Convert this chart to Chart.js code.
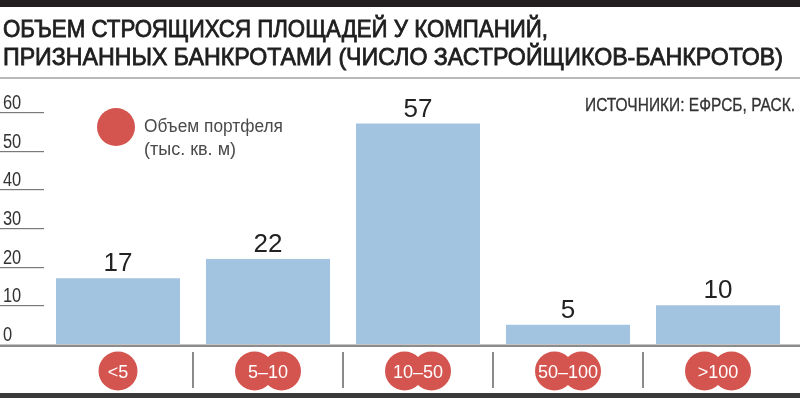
<!DOCTYPE html>
<html>
<head>
<meta charset="utf-8">
<script src="https://cdn.jsdelivr.net/npm/chart.js@4.4.0/dist/chart.umd.min.js"></script>
<style>
  body { margin: 0; background: #fff; }
  #wrap { width: 800px; height: 398px; }
</style>
</head>
<body>
<div id="wrap"><canvas id="myChart" width="800" height="398"></canvas></div>
<script>
// ------------------------------data------------------------------------------------
const titleLines = ['ОБЪЕМ СТРОЯЩИХСЯ ПЛОЩАДЕЙ У КОМПАНИЙ,', 'ПРИЗНАННЫХ БАНКРОТАМИ (ЧИСЛО ЗАСТРОЙЩИКОВ-БАНКРОТОВ)'];
const sourceText = 'ИСТОЧНИКИ: ЕФРСБ, РАСК.';
const legendLines = ['Объем портфеля', '(тыс. кв. м)'];
const categories = ['<5', '5–10', '10–50', '50–100', '>100'];
const bankrupts = [17, 22, 57, 5, 10];
const yTicks = [0, 10, 20, 30, 40, 50, 60];

const RED = '#d4544f';
const FONT = '"Liberation Sans", Arial, sans-serif';

// draw text squeezed to a given width (optional stroke for weight)
function fitText(ctx, text, x, y, w, bold) {
  const m = ctx.measureText(text).width;
  ctx.save();
  ctx.translate(x, y);
  ctx.scale(w / m, 1);
  ctx.textAlign = 'left';
  ctx.fillText(text, 0, 0);
  if (bold) {
    ctx.strokeStyle = ctx.fillStyle;
    ctx.lineWidth = bold;
    ctx.strokeText(text, 0, 0);
  }
  ctx.restore();
}
// draw text with horizontal scale, centered or left
function squeezeText(ctx, text, x, y, s, center) {
  const m = ctx.measureText(text).width;
  ctx.save();
  ctx.translate(x, y);
  ctx.scale(s, 1);
  ctx.textAlign = 'left';
  ctx.fillText(text, center ? -m / 2 : 0, 0);
  ctx.restore();
}

const decor = {
  id: 'decor',
  beforeDraw(chart) {
    const ctx = chart.ctx;
    ctx.save();
    // top black band
    ctx.fillStyle = '#231f20';
    ctx.fillRect(0, 0, 800, 7);
    // title
    ctx.fillStyle = '#1e1e1e';
    ctx.font = '24px ' + FONT;
    fitText(ctx, titleLines[0], 3, 37, 545, 0.8);
    fitText(ctx, titleLines[1], 3, 65, 780, 0.8);
    // grey rule below title
    ctx.fillStyle = '#b9b9b9';
    ctx.fillRect(0, 77, 800, 2);
    // source
    ctx.fillStyle = '#333';
    ctx.font = '18px ' + FONT;
    fitText(ctx, sourceText, 585, 111, 210, 0.3);
    // y ticks with underlines
    const y = chart.scales.y;
    ctx.font = '20px ' + FONT;
    yTicks.forEach(v => {
      const py = Math.round(y.getPixelForValue(v));
      ctx.fillStyle = '#333';
      squeezeText(ctx, String(v), 3, py - 3, 0.82, false);
      if (v > 0) {
        ctx.fillStyle = '#7a7a7a';
        ctx.fillRect(0, py, 44, 1.2);
      }
    });
    // legend
    ctx.fillStyle = RED;
    ctx.beginPath();
    ctx.arc(116, 127, 19, 0, Math.PI * 2);
    ctx.fill();
    ctx.fillStyle = '#4a4a4a';
    ctx.font = '18px ' + FONT;
    fitText(ctx, legendLines[0], 144, 132, 139);
    fitText(ctx, legendLines[1], 144, 155, 92);
    ctx.restore();
  },
  afterDatasetsDraw(chart) {
    const ctx = chart.ctx;
    const x = chart.scales.x;
    const y = chart.scales.y;
    const meta = chart.getDatasetMeta(0);
    const zero = y.getPixelForValue(0);
    ctx.save();
    // value labels
    ctx.fillStyle = '#222';
    ctx.font = '26px ' + FONT;
    ctx.textAlign = 'center';
    meta.data.forEach((bar, i) => {
      ctx.fillText(String(bankrupts[i]), bar.x, bar.y - 7);
    });
    // baseline
    ctx.fillStyle = '#8c8c8c';
    ctx.fillRect(0, zero + 0.5, 800, 2.5);
    // separators between categories
    ctx.fillStyle = '#8a8a8a';
    for (let i = 1; i < categories.length; i++) {
      const sx = (x.getPixelForValue(i - 1) + x.getPixelForValue(i)) / 2;
      ctx.fillRect(Math.round(sx) - 1, 352, 2, 36);
    }
    // red circle labels
    ctx.font = '19px ' + FONT;
    categories.forEach((c, i) => {
      const cx = x.getPixelForValue(i);
      const cy = 371;
      ctx.fillStyle = RED;
      const offs = c.length > 2 ? [-13.5, 13.5] : [0];
      offs.forEach(o => {
        ctx.beginPath();
        ctx.arc(cx + o, cy, 19.5, 0, Math.PI * 2);
        ctx.fill();
      });
      ctx.fillStyle = '#fff';
      squeezeText(ctx, c, cx, cy + 7, 0.95, true);
    });
    // bottom band
    ctx.fillStyle = '#3a3a3a';
    ctx.fillRect(0, 393, 800, 5);
    ctx.restore();
  }
};

// ------------------------------chartJS------------------------------------------------
const pickChart = document.getElementById('myChart');
const drawChart = new Chart(pickChart, {
  type: 'bar',
  data: {
    labels: categories,
    datasets: [{
      label: 'Число застройщиков-банкротов',
      data: bankrupts,
      backgroundColor: '#a3c4e1',
      borderWidth: 0,
      barPercentage: 0.827,
      categoryPercentage: 1
    }]
  },
  options: {
    responsive: false,
    animation: false,
    devicePixelRatio: 1,
    layout: { padding: { left: 43, right: 7, top: 112, bottom: 54 } },
    plugins: { legend: { display: false }, tooltip: { enabled: false }, title: { display: false } },
    scales: {
      x: { display: false },
      y: { display: false, min: 0, max: 60 }
    }
  },
  plugins: [decor]
});
</script>
</body>
</html>
